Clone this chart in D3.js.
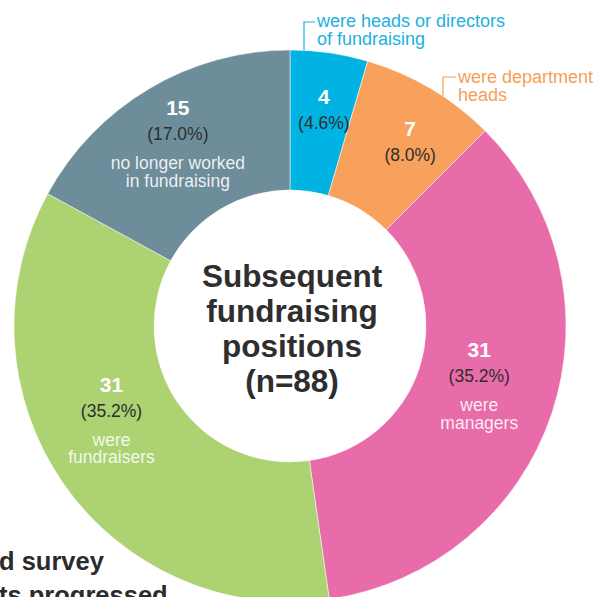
<!DOCTYPE html>
<html>
<head>
<meta charset="utf-8">
<script src="https://cdn.jsdelivr.net/npm/d3@7"></script>
<style>
  html, body { margin: 0; padding: 0; background: #fff; }
  svg { display: block; font-family: "Liberation Sans", Arial, Helvetica, sans-serif; }
</style>
</head>
<body>
<svg id="chart" width="598" height="597"></svg>
<script>
// Subsequent fundraising positions (n=88)
const categories = ["heads", "department", "managers", "fundraisers", "left"];
const counts = [4, 7, 31, 31, 15];
const percentLabels = ["(4.6%)", "(8.0%)", "(35.2%)", "(35.2%)", "(17.0%)"];
const descriptions = [
  [],
  [],
  ["were", "managers"],
  ["were", "fundraisers"],
  ["no longer worked", "in fundraising"]
];
const calloutLines = [
  ["were heads or directors", "of fundraising"],
  ["were department", "heads"],
  [], [], []
];
const colors = ["#00b3e3", "#f7a15c", "#e86ca9", "#acd271", "#6e8d9b"];
const calloutColors = ["#1cb1e2", "#f5a059", null, null, null];
const centerTitle = ["Subsequent", "fundraising", "positions", "(n=88)"];
const sideText = ["d survey", "ts progressed"];

const svg = d3.select("#chart");
const cx = 290, cy = 326;
const outerR = 276, innerR = 136;

const pie = d3.pie().value(d => d.count).sort(null);
const rows = categories.map((c, i) => ({
  key: c, count: counts[i], pct: percentLabels[i], desc: descriptions[i],
  callout: calloutLines[i], color: colors[i], calloutColor: calloutColors[i]
}));
const arcs = pie(rows);

const arc = d3.arc().innerRadius(innerR).outerRadius(outerR);
const labelArc = d3.arc().innerRadius(210).outerRadius(210);

// text partially visible from the neighbouring column
svg.append("g")
  .selectAll("text")
  .data(sideText)
  .join("text")
  .attr("x", -1)
  .attr("y", (d, i) => 570 + i * 34)
  .attr("font-size", 25.5)
  .attr("font-weight", "bold")
  .attr("fill", "#2b2b2b")
  .text(d => d);

const g = svg.append("g").attr("transform", `translate(${cx},${cy})`);

g.selectAll("path.slice")
  .data(arcs)
  .join("path")
  .attr("class", "slice")
  .attr("d", arc)
  .attr("fill", d => d.data.color)
  .attr("stroke", "#fff")
  .attr("stroke-width", 0.5);

// in-slice labels: count, percentage, description
const nudges = [[4, -14], [13, -9], [-10, -35], [-6, -54], [-5, -30]];
const labels = g.selectAll("g.label")
  .data(arcs)
  .join("g")
  .attr("class", "label")
  .attr("transform", (d, i) => {
    const [x, y] = labelArc.centroid(d);
    return `translate(${x + nudges[i][0]},${y + nudges[i][1]})`;
  })
  .attr("text-anchor", "middle");

labels.append("text")
  .attr("y", 0)
  .attr("font-size", 21)
  .attr("font-weight", "bold")
  .attr("fill", "#fff")
  .text(d => d.data.count);

labels.append("text")
  .attr("y", 25)
  .attr("font-size", 17.5)
  .attr("fill", "#2e2e2e")
  .text(d => d.data.pct);

labels.each(function(d) {
  d3.select(this).selectAll("text.desc")
    .data(d.data.desc)
    .join("text")
    .attr("class", "desc")
    .attr("y", (t, j) => 54 + j * 17.5)
    .attr("font-size", 17.5)
    .attr("fill", "#fff")
    .attr("fill-opacity", 0.88)
    .text(t => t);
});

// callouts above the ring for the two small slices
const calloutPos = [
  { tx: 317, ty: 27, lx: 304, ly: 22 },
  { tx: 458, ty: 83, lx: 443, ly: 77 }
];
arcs.forEach((d, i) => {
  if (!d.data.callout.length) return;
  const p = calloutPos[i];
  const edgeY = cy - Math.sqrt(outerR * outerR - (p.lx - cx) * (p.lx - cx));
  svg.append("path")
    .attr("d", `M${p.tx - 2},${p.ly}H${p.lx}V${edgeY}`)
    .attr("fill", "none")
    .attr("stroke", d.data.calloutColor)
    .attr("stroke-width", 1.2);
  svg.append("g")
    .selectAll("text")
    .data(d.data.callout)
    .join("text")
    .attr("x", p.tx)
    .attr("y", (t, j) => p.ty + j * 17.5)
    .attr("font-size", 18)
    .attr("fill", d.data.calloutColor)
    .text(t => t);
});

// centre title
g.append("g")
  .attr("text-anchor", "middle")
  .selectAll("text")
  .data(centerTitle)
  .join("text")
  .attr("x", 2)
  .attr("y", (t, i) => -39 + i * 35)
  .attr("font-size", 31.5)
  .attr("font-weight", "bold")
  .attr("fill", "#2e2e2e")
  .text(t => t);
</script>
</body>
</html>
